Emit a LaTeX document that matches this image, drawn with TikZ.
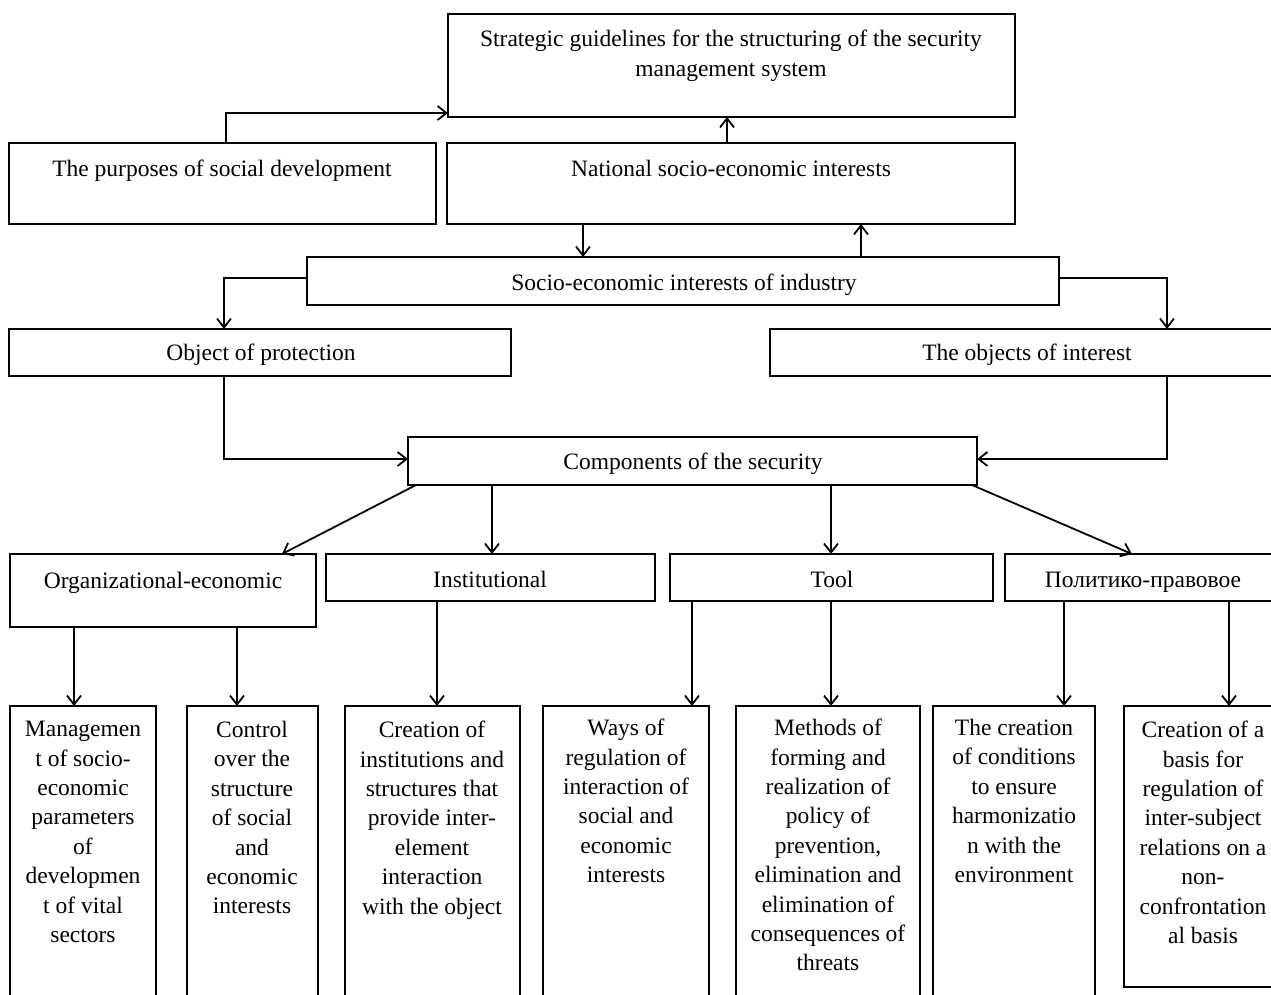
\documentclass[tikz,border=0pt]{standalone}
\usepackage{fontspec}
\setmainfont{Liberation Serif}
\usetikzlibrary{arrows.meta}
\tikzset{
  box/.style={draw, line width=2pt, inner sep=0pt, outer sep=0pt, anchor=north west, line join=miter},
  lbl/.style={inner sep=0pt, font=\fontsize{23.5}{29.4}\selectfont, align=center},
  arr/.style={line width=1.8pt, line join=miter, -{Straight Barb[length=9pt,width=14pt,line width=1.8pt]}}
}
\begin{document}
\begin{tikzpicture}[x=1pt,y=-1pt]
\useasboundingbox[fill=white] (0,0) rectangle (1271,994);
% boxes
\node[box, minimum width=567pt, minimum height=103pt] (str) at (448,14) {};
\node[box, minimum width=427pt, minimum height=81pt] (pur) at (9,143) {};
\node[box, minimum width=568pt, minimum height=81pt] (nat) at (447,143) {};
\node[box, minimum width=752pt, minimum height=48pt] (ind) at (307,257) {};
\node[box, minimum width=502pt, minimum height=47pt] (obj) at (9,329) {};
\node[box, minimum width=514pt, minimum height=47pt] (ooi) at (770,329) {};
\node[box, minimum width=569pt, minimum height=48pt] (comp) at (408,437) {};
\node[box, minimum width=306pt, minimum height=73pt] (org) at (10,554) {};
\node[box, minimum width=329pt, minimum height=47pt] (inst) at (326,554) {};
\node[box, minimum width=323pt, minimum height=47pt] (tool) at (670,554) {};
\node[box, minimum width=280pt, minimum height=47pt] (pol) at (1005,554) {};
\node[box, minimum width=146pt, minimum height=310pt] (b1) at (10,706) {};
\node[box, minimum width=131pt, minimum height=310pt] (b2) at (187,706) {};
\node[box, minimum width=175pt, minimum height=310pt] (b3) at (345,706) {};
\node[box, minimum width=166pt, minimum height=310pt] (b4) at (543,706) {};
\node[box, minimum width=184pt, minimum height=310pt] (b5) at (736,706) {};
\node[box, minimum width=162pt, minimum height=310pt] (b6) at (933,706) {};
\node[box, minimum width=160pt, minimum height=281pt] (b7) at (1124,706) {};
% texts
\node[lbl, anchor=north] (strT) at (731,30) {Strategic guidelines for the structuring of the security\\management system};
\node[lbl, anchor=base] (purT) at (222,176) {The purposes of social development};
\node[lbl, anchor=base] (natT) at (731,176) {National socio-economic interests};
\node[lbl, anchor=base] (indT) at (684,290) {Socio-economic interests of industry};
\node[lbl, anchor=base] (objT) at (261,360) {Object of protection};
\node[lbl, anchor=base] (ooiT) at (1027,360) {The objects of interest};
\node[lbl, anchor=base] (compT) at (693,469) {Components of the security};
\node[lbl, anchor=base] (orgT) at (163,588) {Organizational-economic};
\node[lbl, anchor=base] (instT) at (490,587) {Institutional};
\node[lbl, anchor=base] (toolT) at (832,587) {Tool};
\node[lbl, anchor=base] (polT) at (1143,587) {Политико-правовое};
\node[lbl, anchor=north] (b1T) at (83,721) {Managemen\\t of socio-\\economic\\parameters\\of\\developmen\\t of vital\\sectors};
\node[lbl, anchor=north] (b2T) at (252,721) {Control\\over the\\structure\\of social\\and\\economic\\interests};
\node[lbl, anchor=north] (b3T) at (432,721) {Creation of\\institutions and\\structures that\\provide inter-\\element\\interaction\\with the object};
\node[lbl, anchor=north] (b4T) at (626,719) {Ways of\\regulation of\\interaction of\\social and\\economic\\interests};
\node[lbl, anchor=north] (b5T) at (828,719) {Methods of\\forming and\\realization of\\policy of\\prevention,\\elimination and\\elimination of\\consequences of\\threats};
\node[lbl, anchor=north] (b6T) at (1014,719) {The creation\\of conditions\\to ensure\\harmonizatio\\n with the\\environment};
\node[lbl, anchor=north] (b7T) at (1203,721) {Creation of a\\basis for\\regulation of\\inter-subject\\relations on a\\non-\\confrontation\\al basis};
% connectors
\draw[arr] ([xshift=217pt]pur.north west) |- ([yshift=4pt]str.south west);
\draw[arr] ([xshift=280pt]nat.north west) -- ([xshift=279pt]str.south west);
\draw[arr] ([xshift=136pt]nat.south west) -- ([xshift=276pt]ind.north west);
\draw[arr] ([xshift=554pt]ind.north west) -- ([xshift=414pt]nat.south west);
\draw[arr] ([yshift=-21pt]ind.north west) -| ([xshift=215pt]obj.north west);
\draw[arr] ([yshift=-21pt]ind.north east) -| ([xshift=397pt]ooi.north west);
\draw[arr] ([xshift=215pt]obj.south west) |- ([yshift=-22pt]comp.north west);
\draw[arr] ([xshift=397pt]ooi.south west) |- ([yshift=-22pt]comp.north east);
\draw[arr] ([xshift=8pt]comp.south west) -- ([xshift=272pt]org.north west);
\draw[arr] ([xshift=84pt]comp.south west) -- ([xshift=166pt]inst.north west);
\draw[arr] ([xshift=423pt]comp.south west) -- ([xshift=161pt]tool.north west);
\draw[arr] ([xshift=-5pt]comp.south east) -- ([xshift=127pt]pol.north west);
\draw[arr] ([xshift=64pt]org.south west) -- ([xshift=64pt]b1.north west);
\draw[arr] ([xshift=227pt]org.south west) -- ([xshift=50pt]b2.north west);
\draw[arr] ([xshift=111pt]inst.south west) -- ([xshift=92pt]b3.north west);
\draw[arr] ([xshift=22pt]tool.south west) -- ([xshift=149pt]b4.north west);
\draw[arr] ([xshift=161pt]tool.south west) -- ([xshift=95pt]b5.north west);
\draw[arr] ([xshift=59pt]pol.south west) -- ([xshift=131pt]b6.north west);
\draw[arr] ([xshift=224pt]pol.south west) -- ([xshift=105pt]b7.north west);
\end{tikzpicture}
\end{document}
